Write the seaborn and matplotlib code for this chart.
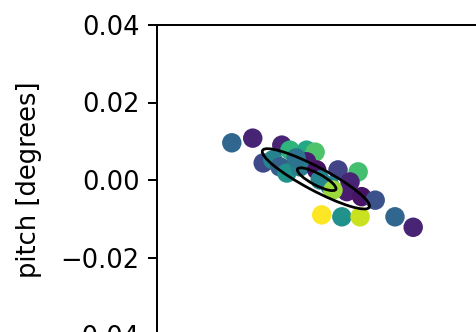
import matplotlib
matplotlib.use("Agg")
import matplotlib.pyplot as plt
from matplotlib.patches import Ellipse
import numpy as np
import pandas as pd
import seaborn as sns

# yaw / pitch offsets of each trial (degrees) and the colour value of each trial
yaw = [-0.0207, -0.0153, -0.0078, -0.0126, -0.0101, -0.0083, -0.0057, -0.0065,
       -0.0014, 0.0008, -0.0014, -0.0031, -0.0041, 0.0012, 0.0021, 0.0067,
       0.0119, 0.0046, 0.0098, 0.0090, 0.0128, 0.0163, 0.0054, 0.0025,
       0.0077, 0.0124, 0.0214, 0.0261]
pitch = [0.0096, 0.0108, 0.0090, 0.0044, 0.0052, 0.0034, 0.0077, 0.0018,
         0.0077, 0.0072, 0.0047, 0.0034, 0.0057, 0.0026, 0.0000, 0.0026,
         0.0021, -0.0015, -0.0005, -0.0030, -0.0043, -0.0052, -0.0026, -0.0090,
         -0.0095, -0.0095, -0.0095, -0.0122]
trial = [0.33, 0.10, 0.10, 0.22, 0.45, 0.30, 0.65, 0.50,
         0.60, 0.72, 0.08, 0.42, 0.38, 0.05, 0.45, 0.20,
         0.70, 0.45, 0.10, 0.08, 0.05, 0.25, 0.85, 1.00,
         0.50, 0.92, 0.33, 0.10]

# confidence ellipses: centre, full width, full height, rotation
ell_center = [(0.0010, 0.0003), (0.0012, 0.0002)]
ell_width = [0.0312, 0.0112]
ell_height = [0.0060, 0.0030]
ell_angle = [-28, -28]

df = pd.DataFrame({"yaw": yaw, "pitch": pitch, "trial": trial})

plt.rcParams["font.size"] = 10.4

dpi = 178
fig = plt.figure(figsize=(476 / dpi, 332 / dpi), dpi=dpi)
ax = fig.add_axes([157 / 476, 1 - 335 / 332, (500 - 157) / 476, 310 / 332])

sns.scatterplot(data=df, x="yaw", y="pitch", hue="trial", palette="viridis",
                hue_norm=(0, 1), s=62, linewidth=0, legend=False, ax=ax)

for c, w, h, a in zip(ell_center, ell_width, ell_height, ell_angle):
    ax.add_patch(Ellipse(c, w, h, angle=a, fill=False, edgecolor="black", lw=1.1))

ax.set_xlim(-0.04, 0.0485)
ax.set_ylim(-0.04, 0.04)
ax.set_yticks([-0.04, -0.02, 0.0, 0.02, 0.04])
ax.tick_params(axis="x", bottom=False, labelbottom=False)
ax.set_ylabel("pitch [degrees]", labelpad=7.5)
ax.set_xlabel("")

fig.savefig("out.png", dpi=dpi)
